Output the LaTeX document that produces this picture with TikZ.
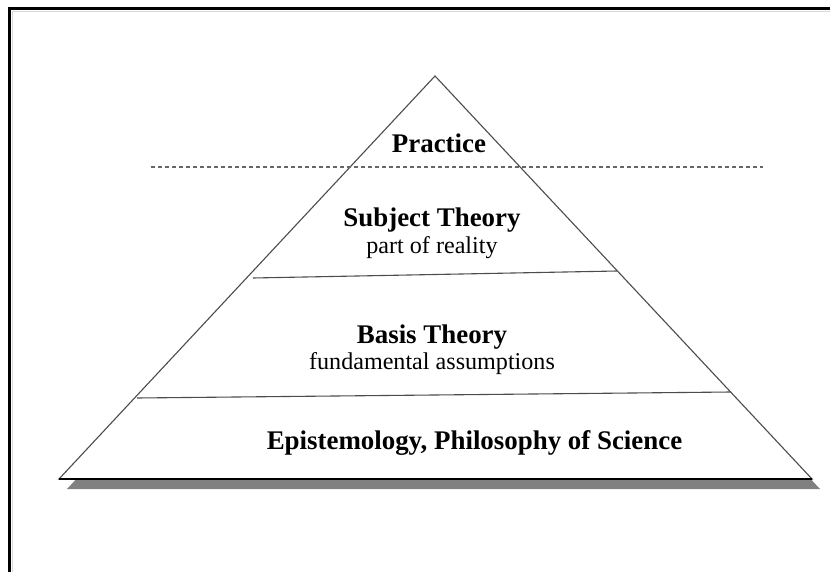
\documentclass[tikz,border=0pt]{standalone}
\usepackage{fontspec}
\setmainfont{Liberation Serif}

\tikzset{
  level/.style={font=\bfseries\fontsize{27}{31}\selectfont, anchor=base},
  levelnote/.style={font=\fontsize{24.2}{28}\selectfont, anchor=base},
  edge/.style={draw=black!70, line width=1.1bp}
}

\begin{document}
\begin{tikzpicture}[x=1bp, y=-1bp]
  \useasboundingbox (0,0) rectangle (830,572);
  % outer frame (runs off the page on the right and bottom)
  \draw[gray!30, line width=1bp] (12.5,11.5) rectangle (860,600);
  \draw[line width=3bp] (9.5,8.5) rectangle (860,600);

  \coordinate (apex) at (435,76);
  \coordinate (bl) at (59,479);
  \coordinate (br) at (812,479);

  % shadow, then the pyramid itself
  \fill[gray] ([shift={(8,10)}]bl) -- ([shift={(8,10)}]apex) -- ([shift={(8,10)}]br) -- cycle;
  \filldraw[fill=white, edge] (bl) -- (apex) -- (br) -- cycle;
  \draw[line width=1.1bp] (bl) -- (br);

  % layer borders
  \coordinate (s1) at (253,278);
  \coordinate (e1) at (617,271);
  \coordinate (s2) at (137,398);
  \coordinate (e2) at (731,392);
  \draw[edge] (s1) -- (e1);
  \draw[edge] (s2) -- (e2);

  % theory / practice divide
  \coordinate (d1) at (151,167);
  \coordinate (d2) at (763,167);
  \draw[black!60, line width=1.1bp, dash pattern=on 4bp off 3bp] (d1) -- (d2);

  \node[level] (practice) at (439,153) {Practice};
  \node[level] (subject) at (432,227) {Subject Theory};
  \node[levelnote] (reality) at (432,253) {part of reality};
  \node[level] (basis) at (432,343) {Basis Theory};
  \node[levelnote] (assumptions) at (432,369) {fundamental assumptions};
  \node[level] (episteme) at (474.5,449) {Epistemology, Philosophy of Science};
\end{tikzpicture}
\end{document}
